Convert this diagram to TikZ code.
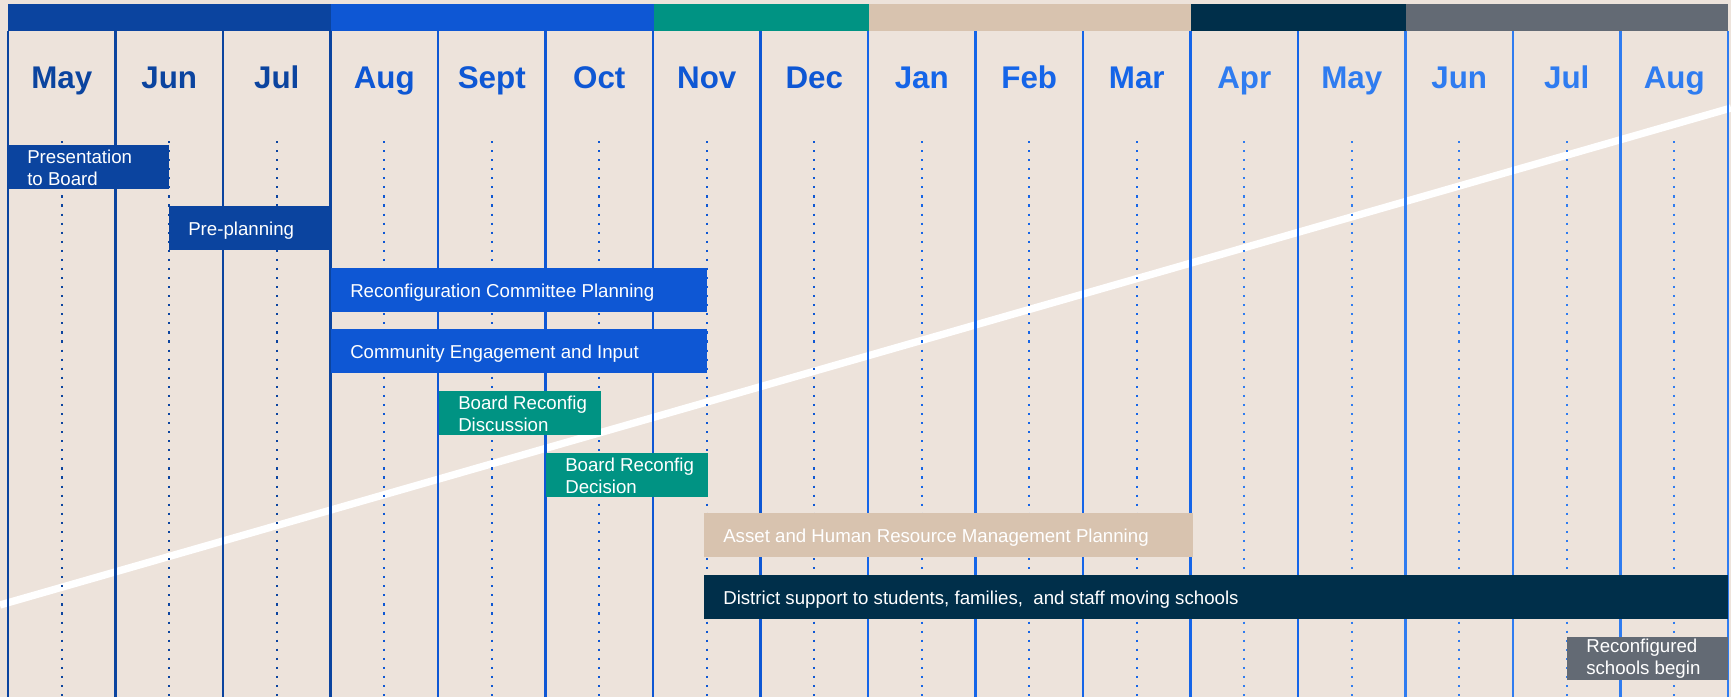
\documentclass[tikz,border=0pt]{standalone}
\usepackage{fontspec}
\setmainfont{Liberation Sans}
\usepackage{tikz}
\usetikzlibrary{positioning}
\usepackage{xcolor}

\definecolor{bgbeige}{HTML}{EDE3DB}
\definecolor{dkblue}{HTML}{0B449F}
\definecolor{midblue}{HTML}{0E57D4}
\definecolor{brblue}{HTML}{1565E8}
\definecolor{ltblue}{HTML}{2F7CF0}
\definecolor{teal}{HTML}{009383}
\definecolor{tan}{HTML}{D8C3AF}
\definecolor{navy}{HTML}{002F4A}
\definecolor{slate}{HTML}{636A74}

\tikzset{
  month/.style={anchor=base, font=\fontsize{23.5}{26}\selectfont\bfseries},
  task/.style={anchor=west, align=left, text=white, inner sep=0pt,
    font=\fontsize{14}{16.5}\selectfont},
}

\begin{document}
\begin{tikzpicture}[x=0.75pt, y=-0.75pt]
            \useasboundingbox (0,0) rectangle (1731,697);
            \fill[bgbeige] (0,0) rectangle (1731,697);

            \draw[white, line width=5.5pt] (0,605) -- (1731,108);

            \foreach \i/\c in {0/dkblue,1/dkblue,2/dkblue,3/dkblue,4/midblue,5/midblue,6/midblue,
                7/midblue,8/brblue,9/brblue,10/brblue,11/brblue,12/brblue,13/ltblue,14/ltblue,
                15/ltblue,16/ltblue}
                \draw[color=\c, line width=1.6pt] ({8+107.5*\i},31) -- ({8+107.5*\i},697);

            \foreach \m/\c [count=\i from 0] in {May/dkblue,Jun/dkblue,Jul/dkblue,Aug/midblue,
                Sept/midblue,Oct/midblue,Nov/midblue,Dec/midblue,Jan/brblue,Feb/brblue,Mar/brblue,
                Apr/ltblue,May/ltblue,Jun/ltblue,Jul/ltblue,Aug/ltblue}
            {
                \draw[color=\c, line width=1.6pt, dash pattern=on 1.6pt off 5.2pt]
                    ({61.75+107.5*\i},141) -- ({61.75+107.5*\i},697);
                \node[month, text=\c] (m\i) at ({61.75+107.5*\i},88) {\m};
            }

            \fill[dkblue] (8,4) rectangle (331,31);
            \fill[midblue] (331,4) rectangle (654,31);
            \fill[teal] (654,4) rectangle (869,31);
            \fill[tan] (869,4) rectangle (1191,31);
            \fill[navy] (1191,4) rectangle (1406,31);
            \fill[slate] (1406,4) rectangle (1728,31);

            \fill[dkblue] (8,145) rectangle (169,189);
            \node[task] (presentation) at (27,168) {Presentation\\to Board};
            \fill[dkblue] (169,206) rectangle (331,250);
            \node[task] (preplanning) at (188,231) {Pre-planning};
            \fill[midblue] (331,268) rectangle (707,312);
            \node[task] (committee) at (350,293) {Reconfiguration Committee Planning};
            \fill[midblue] (331,329) rectangle (707,373);
            \node[task] (engagement) at (350,354) {Community Engagement and Input};
            \fill[teal] (439,391) rectangle (601,435);
            \node[task] (discussion) at (458,414) {Board Reconfig\\Discussion};
            \fill[teal] (546,453) rectangle (708,497);
            \node[task] (decision) at (565,476) {Board Reconfig\\Decision};
            \fill[tan] (704,513) rectangle (1193,557);
            \node[task] (assetplan) at (723,538) {Asset and Human Resource Management Planning};
            \fill[navy] (704,575) rectangle (1728,619);
            \node[task] (support) at (723,600) {District support to students, families, \ and staff moving schools};
            \fill[slate] (1567,637) rectangle (1728,680);
            \node[task] (schoolsbegin) at (1586,659) {Reconfigured\\schools begin};
        \end{tikzpicture}
\end{document}
